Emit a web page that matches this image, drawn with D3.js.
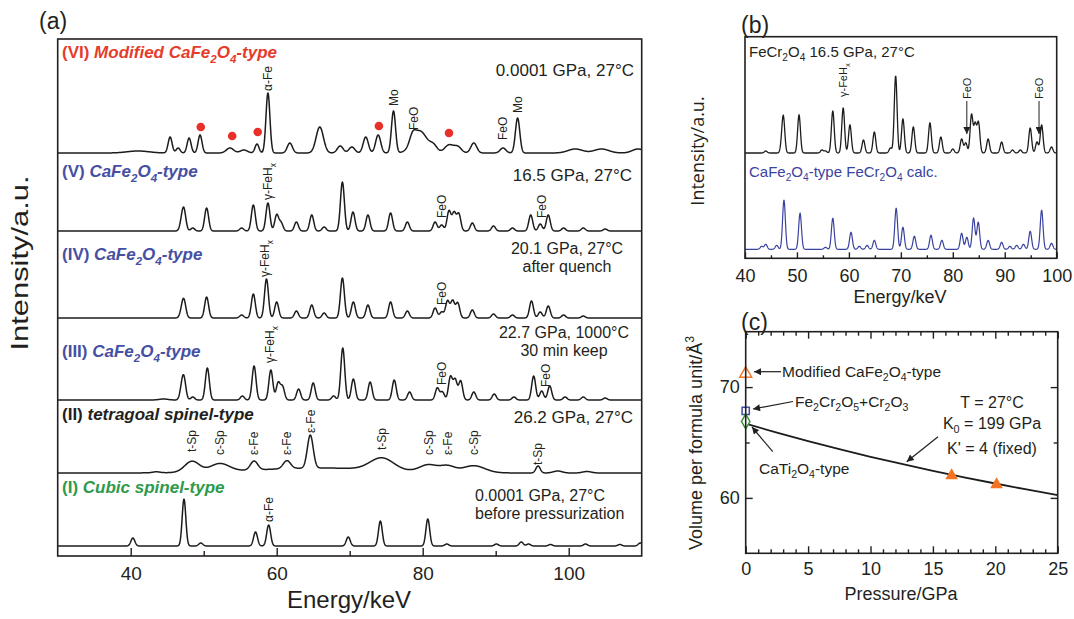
<!DOCTYPE html>
<html>
<head>
<meta charset="utf-8">
<script src="https://cdn.jsdelivr.net/npm/d3@7"></script>
<style>
body { margin: 0; background: #fff; }
text { font-family: "Liberation Sans", Arial, sans-serif; fill: #231f20; }
</style>
</head>
<body>
<svg id="fig" width="1074" height="619"></svg>
<script>
// ---------- panel (a): peak tables  [keV, height, width]
const peaksI = [[40.3,8],[47.3,47,0.25],[49.6,3],[57.1,14],[58.9,21],[69.8,9],[74.2,25,0.26],[80.7,27,0.26],
  [83.3,2],[90.1,2],[93.5,4],[94.5,2],[97.5,1.5],[102.3,2],[107,1.5],[109.8,3]];
const peaksII = [[43.5,1,0.5],[66,5,9],[48.4,11,1.0],[52.2,8,1.3],[56.9,9,0.5],[61.4,8,0.5],[64.6,33,0.4],
  [74.4,12,1.6],[80.8,7,1.2],[83.4,6,1.0],[87.0,7,1.5],[95.8,7,0.3],[98.5,2,0.6],[102.5,1.5,0.6]];
const peaksIII = [[44.5,1,0.6],[47.0,10],[47.3,19],[48.5,3],[50.5,32],[55.3,4],[56.9,34],[59.2,30],[60.2,17],[60.8,13],
  [63.0,11],[65.0,17],[67.8,4],[69.05,52],[70.5,21],[72.8,18],[76.1,20],[78.2,8],[82.0,12],[82.7,8],
  [83.8,23],[84.45,20],[85.2,19],[87.0,8],[89.8,6],[92.5,3],[95.2,24],[96.3,9],[97.4,14],[99.5,3],[102,3],[105,2]];
const peaksIV = [[47.0,6],[47.3,16],[50.4,21],[55.2,3],[56.8,24],[58.6,39],[60.0,16],[62.7,7],[64.8,13],[66.5,5],
  [69.0,40],[70.5,16],[72.5,13],[75.6,16],[77.9,7],[81.7,10],[82.6,6],[83.4,17],[84.1,17],[84.8,15],[86.8,8],
  [89.7,4],[92.3,3],[94.9,17],[96.1,6],[97.2,12],[99.3,3],[102,2]];
const peaksV = [[47.0,8],[47.3,19],[48.5,3],[50.4,23],[55.2,3],[56.8,26],[58.8,28],[60.0,16],[60.6,8],[62.7,9],
  [64.8,16],[66.5,4],[69.0,49],[70.45,19],[72.5,16],[75.6,18],[77.9,9],[81.7,9],[82.6,6],[83.6,20],[84.3,18],
  [84.95,17],[86.8,8],[89.7,5],[92.3,3],[94.8,16],[96.1,7],[97.2,16],[99.3,3],[102,3],[105,2]];
const peaksVI = [[41,2,1.5],[45.4,16],[46.5,5],[48.0,15],[49.5,18],[53.6,5,0.5],[55.5,3,0.5],[57.3,9],[58.8,60],
  [61.8,10,0.35],[65.9,26,0.5],[68.7,7,0.4],[70.3,6,0.4],[72.2,16,0.35],[73.9,18,0.35],[76.0,42,0.28],
  [78.6,8,0.4],[79.6,22,1.0],[81.5,6,0.5],[83.6,8,0.6],[84.8,6,0.5],[87.0,10,0.4],[91.0,5,0.4],[93.0,35,0.3],
  [100.9,4,1],[104.5,4,1],[109.5,4,0.8]];

const traceIds = ["I","II","III","IV","V","VI"];
const tracePeaks = [peaksI, peaksII, peaksIII, peaksIV, peaksV, peaksVI];
const traceNums = ["(I)","(II)","(III)","(IV)","(V)","(VI)"];
const traceNames = ["Cubic spinel-type","tetragoal spinel-type","CaFe_2O_4-type","CaFe_2O_4-type","CaFe_2O_4-type","Modified CaFe_2O_4-type"];
const traceConds = [["0.0001 GPa, 27°C","before pressurization"],["26.2 GPa, 27°C"],["22.7 GPa, 1000°C","30 min keep"],
  ["20.1 GPa, 27°C","after quench"],["16.5 GPa, 27°C"],["0.0001 GPa, 27°C"]];

// phase labels [trace, keV, text, lift above baseline]
const phaseLabels = [
  ["VI",58.8,"α-Fe",62],["VI",76.0,"Mo",47],["VI",78.8,"FeO",23],["VI",91.0,"FeO",13],["VI",93.0,"Mo",40],
  ["V",58.8,"γ-FeH_x",31],["V",82.6,"FeO",13],["V",96.3,"FeO",13],
  ["IV",58.4,"γ-FeH_x",41],["IV",82.6,"FeO",13],
  ["III",59.1,"γ-FeH_x",37],["III",82.6,"FeO",15],["III",96.8,"FeO",13],
  ["II",48.4,"t-Sp",21],["II",52.2,"c-Sp",18],["II",56.9,"ε-Fe",18],["II",61.4,"ε-Fe",18],["II",64.6,"ε-Fe",40],
  ["II",74.4,"t-Sp",23],["II",80.8,"c-Sp",18],["II",83.4,"ε-Fe",18],["II",87.0,"c-Sp",18],["II",95.8,"t-Sp",8],
  ["I",58.9,"α-Fe",24]
];
// red dots on (VI)  [keV, lift]
const dotsVI = [[49.6,26],[53.9,17],[57.4,21],[74.0,27],[83.6,20]];

const ticksA = [40,60,80,100], minorA = [50,70,90];

// ---------- panel (b)
const peaksObs = [[44.0,2],[47.1,8],[47.4,33],[50.4,38],[54.8,3],[55.5,2],[56.9,42],[58.9,45],[60.2,28],[62.8,13],
  [64.9,21],[68.0,5],[69.0,77],[70.4,34],[72.4,26],[75.6,30],[77.7,16],[80.0,4],[81.7,14],[82.5,10],[83.6,38],
  [84.3,28],[84.95,30],[86.8,14],[89.4,11],[91.5,3],[93,3],[94.9,25],[96.2,11],[97.1,28],[99.0,6]];
const peaksCalc = [[43.2,3],[44.0,5],[46.1,4],[47.5,49],[50.6,36],[55.5,2],[56.9,31],[60.4,17],[62.0,3],[63.5,4],
  [64.9,9],[69.1,41],[70.4,22],[72.6,13],[75.8,14],[77.9,9],[81.7,16],[82.7,12],[84.0,31],[84.9,27],[86.8,9],
  [89.4,7],[91.0,3],[92.3,4],[93.6,5],[94.9,18],[97.1,39],[99.0,6]];
const ticksB = [40,50,60,70,80,90,100], minorB = [45,55,65,75,85,95];

// ---------- panel (c)
const eosP = [0,2.5,5,7.5,10,12.5,15,17.5,20,22.5,25];
const eosV = [66.7,65.89,65.12,64.40,63.71,63.07,62.45,61.86,61.30,60.76,60.25];
const ambientPts = [["triangle",71.3,"#f07a2c"],["square",67.85,"#3d4ea3"],["diamond",66.9,"#3f8f3a"]];
const highPP = [16.5,20.1], highPV = [62.1,61.3];

// ---------- helpers
const svg = d3.select("#fig");
svg.append("rect").attr("width",1074).attr("height",619).attr("fill","#fff");

function spectrum(peaks, lo, hi) {
  const pts = [];
  for (let e = lo; e <= hi + 1e-9; e += 0.04) {
    let v = 0;
    peaks.forEach(p => { const s = p[2] || 0.27; v += p[1] * Math.exp(-0.5 * ((e - p[0]) / s) ** 2); });
    pts.push([e, v]);
  }
  return pts;
}

// "_x" / "_{..}" subscript, "^x" superscript
function rich(sel, str, size) {
  const toks = []; let i = 0, buf = "";
  while (i < str.length) {
    const c = str[i];
    if (c === "_" || c === "^") {
      if (buf) { toks.push({t: buf, k: 0}); buf = ""; }
      let s;
      if (str[i+1] === "{") { const j = str.indexOf("}", i); s = str.slice(i+2, j); i = j + 1; }
      else { s = str[i+1]; i += 2; }
      toks.push({t: s, k: c === "_" ? 1 : -1});
    } else { buf += c; i++; }
  }
  if (buf) toks.push({t: buf, k: 0});
  let shift = 0;
  toks.forEach(tk => {
    const target = tk.k === 1 ? size * 0.28 : tk.k === -1 ? -size * 0.42 : 0;
    const ts = sel.append("tspan").text(tk.t);
    if (target - shift) ts.attr("dy", target - shift);
    if (tk.k) ts.style("font-size", (size * 0.68) + "px");
    shift = target;
  });
  return sel;
}

function frame(g, x0, y0, x1, y1) {
  g.append("rect").attr("x", x0).attr("y", y0).attr("width", x1 - x0).attr("height", y1 - y0)
    .attr("fill", "none").attr("stroke", "#231f20").attr("stroke-width", 1.6);
}

function styleAxis(g, size) {
  g.select(".domain").remove();
  g.selectAll("line").attr("stroke", "#231f20").attr("stroke-width", 1.4);
  g.selectAll("text").style("font-size", size + "px").attr("fill", "#231f20")
    .style("font-family", '"Liberation Sans", Arial, sans-serif');
}

const defs = svg.append("defs");
defs.append("marker").attr("id", "ah").attr("viewBox", "0 0 10 10").attr("refX", 10).attr("refY", 5)
  .attr("markerUnits", "userSpaceOnUse").attr("markerWidth", 9).attr("markerHeight", 7).attr("orient", "auto")
  .append("path").attr("d", "M0,0 L10,5 L0,10 z").attr("fill", "#231f20");

// ================= panel (a)
const xA = d3.scaleLinear().domain([30, 110]).range([57.7, 641.7]);
const yA = d3.scaleLinear().domain([0, 517]).range([556, 39]);
const baseA = {I: 10, II: 83, III: 156, IV: 238, V: 325, VI: 403};
const titleY = [493, 420, 357, 260, 177, 58];
const titleCol = ["#2e9a4c", "#231f20", "#4650a2", "#4650a2", "#4650a2", "#e63c2b"];
const condLayout = [
  {anchor: "start", x: 475, y: [501, 519], size: 16},
  {anchor: "end", x: 633, y: [423], size: 17},
  {anchor: "middle", x: 564, y: [338, 356], size: 16},
  {anchor: "middle", x: 567, y: [254, 272], size: 16},
  {anchor: "end", x: 632, y: [181], size: 17},
  {anchor: "end", x: 634, y: [76], size: 17}
];

const gA = svg.append("g");
const line = d3.line().x(d => xA(d[0])).y(d => yA(d[1]));

tracePeaks.forEach((pk, i) => {
  const b = baseA[traceIds[i]];
  const pts = spectrum(pk, 30, 110).map(d => [d[0], d[1] + b]);
  gA.append("path").attr("d", line(pts)).attr("fill", "none")
    .attr("stroke", "#1c1c1c").attr("stroke-width", 1.5).attr("stroke-linejoin", "round");

  const t = gA.append("text").attr("x", 62).attr("y", titleY[i])
    .style("font-size", "17px").style("font-weight", "bold").style("font-style", "italic")
    .attr("fill", titleCol[i]).style("fill", titleCol[i]);
  t.append("tspan").text(traceNums[i] + " ").style("font-style", "normal");
  rich(t, traceNames[i], 17);

  const L = condLayout[i];
  traceConds[i].forEach((s, k) => {
    gA.append("text").attr("x", L.x).attr("y", L.y[k]).attr("text-anchor", L.anchor)
      .style("font-size", L.size + "px").text(s);
  });
});

phaseLabels.forEach(([id, e, s, lift]) => {
  const x = xA(e), y = yA(baseA[id] + lift);
  const t = gA.append("text").attr("x", x).attr("y", y).attr("dy", "0.36em")
    .attr("transform", `rotate(-90,${x},${y})`).style("font-size", "12px");
  rich(t, s, 12);
});

gA.selectAll("circle.dot").data(dotsVI).join("circle").attr("class", "dot")
  .attr("cx", d => xA(d[0])).attr("cy", d => yA(baseA.VI + d[1])).attr("r", 4.3).attr("fill", "#e8302a");

frame(gA, 57.7, 39, 641.7, 556);
const axA = gA.append("g").attr("transform", "translate(0,556)")
  .call(d3.axisBottom(xA).tickValues(ticksA).tickSizeInner(-8).tickSizeOuter(0).tickPadding(11));
styleAxis(axA, 19);
const axAm = gA.append("g").attr("transform", "translate(0,556)")
  .call(d3.axisBottom(xA).tickValues(minorA).tickSizeInner(-5).tickSizeOuter(0).tickFormat(""));
styleAxis(axAm, 19);

gA.append("text").attr("x", 349).attr("y", 608).attr("text-anchor", "middle").style("font-size", "24px").text("Energy/keV");
gA.append("text").attr("transform", "translate(28,263) rotate(-90)").attr("text-anchor", "middle")
  .style("font-size", "24px").attr("textLength", 175).attr("lengthAdjust", "spacingAndGlyphs").text("Intensity/a.u.");
gA.append("text").attr("x", 39).attr("y", 29).style("font-size", "23px").text("(a)");

// ================= panel (b)
const xB = d3.scaleLinear().domain([40, 100]).range([745, 1056.7]);
const yB = d3.scaleLinear().domain([0, 221.6]).range([258.3, 36.7]);
const lineB = d3.line().x(d => xB(d[0])).y(d => yB(d[1]));
const gB = svg.append("g");

gB.append("path").attr("d", lineB(spectrum(peaksObs, 40, 100).map(d => [d[0], d[1] + 105.3])))
  .attr("fill", "none").attr("stroke", "#1c1c1c").attr("stroke-width", 1.3);
gB.append("path").attr("d", lineB(spectrum(peaksCalc, 40, 100).map(d => [d[0], d[1] + 9])))
  .attr("fill", "none").attr("stroke", "#3a42a0").attr("stroke-width", 1.2);

rich(gB.append("text").attr("x", 749).attr("y", 57).style("font-size", "15px"), "FeCr_2O_4 16.5 GPa, 27°C", 15);
rich(gB.append("text").attr("x", 749).attr("y", 177).style("font-size", "15px").style("fill", "#3a42a0"),
  "CaFe_2O_4-type FeCr_2O_4 calc.", 15);

[[58.9, "γ-FeH_x", 97]].forEach(([e, s, y]) => {
  const x = xB(e);
  rich(gB.append("text").attr("x", x).attr("y", y).attr("dy", "0.36em")
    .attr("transform", `rotate(-90,${x},${y})`).style("font-size", "11px"), s, 11);
});
[82.7, 96.6].forEach(e => {
  const x = xB(e);
  gB.append("line").attr("x1", x).attr("x2", x).attr("y1", 101).attr("y2", 134)
    .attr("stroke", "#231f20").attr("stroke-width", 1).attr("marker-end", "url(#ah)");
  gB.append("text").attr("x", x).attr("y", 99).attr("dy", "0.36em")
    .attr("transform", `rotate(-90,${x},99)`).style("font-size", "11px").text("FeO");
});

frame(gB, 745, 36.7, 1056.7, 258.3);
const axB = gB.append("g").attr("transform", "translate(0,258.3)")
  .call(d3.axisBottom(xB).tickValues(ticksB).tickSizeInner(-6).tickSizeOuter(0).tickPadding(11));
styleAxis(axB, 18);
const axBm = gB.append("g").attr("transform", "translate(0,258.3)")
  .call(d3.axisBottom(xB).tickValues(minorB).tickSizeInner(-3).tickSizeOuter(0).tickFormat(""));
styleAxis(axBm, 18);
gB.append("text").attr("x", 900).attr("y", 303).attr("text-anchor", "middle").style("font-size", "18px").text("Energy/keV");
gB.append("text").attr("transform", "translate(704,151) rotate(-90)").attr("text-anchor", "middle")
  .style("font-size", "18px").style("font-family", '"Open Sans", sans-serif').text("Intensity/a.u.");
gB.append("text").attr("x", 741).attr("y", 33).style("font-size", "23px").text("(b)");

// ================= panel (c)
const xC = d3.scaleLinear().domain([0, 25]).range([745.7, 1057.7]);
const yC = d3.scaleLinear().domain([55, 75]).range([553.3, 331.7]);
const gC = svg.append("g");

gC.append("path").attr("d", d3.line().curve(d3.curveMonotoneX).x(d => xC(d[0])).y(d => yC(d[1]))(eosP.map((p, i) => [p, eosV[i]])))
  .attr("fill", "none").attr("stroke", "#1c1c1c").attr("stroke-width", 1.8);

const symType = {triangle: d3.symbolTriangle, square: d3.symbolSquare, diamond: d3.symbolDiamond};
const symSize = {triangle: 62, square: 52, diamond: 62};
ambientPts.forEach(([shape, v, col]) => {
  gC.append("path").attr("d", d3.symbol(symType[shape], symSize[shape])())
    .attr("transform", `translate(${xC(0)},${yC(v) + (shape === "triangle" ? 1 : 0)})`)
    .attr("fill", "#fff").attr("stroke", col).attr("stroke-width", 1.5);
});
highPP.forEach((p, i) => {
  gC.append("path").attr("d", d3.symbol(d3.symbolTriangle, 70)())
    .attr("transform", `translate(${xC(p)},${yC(highPV[i]) + 1})`).attr("fill", "#f47321");
});

const arrowsC = [[781, 371.7, 754, 371.7], [793, 401.5, 753, 409], [772.7, 451.7, 752, 427], [938, 436.7, 906.7, 461.7]];
arrowsC.forEach(a => gC.append("line").attr("x1", a[0]).attr("y1", a[1]).attr("x2", a[2]).attr("y2", a[3])
  .attr("stroke", "#231f20").attr("stroke-width", 1.2).attr("marker-end", "url(#ah)"));

rich(gC.append("text").attr("x", 782).attr("y", 377).style("font-size", "15.5px"), "Modified CaFe_2O_4-type", 15.5);
rich(gC.append("text").attr("x", 795).attr("y", 407).style("font-size", "15.5px"), "Fe_2Cr_2O_5+Cr_2O_3", 15.5);
rich(gC.append("text").attr("x", 759).attr("y", 474).style("font-size", "15.5px"), "CaTi_2O_4-type", 15.5);
gC.append("text").attr("x", 992).attr("y", 408).attr("text-anchor", "middle").style("font-size", "16px").text("T = 27°C");
rich(gC.append("text").attr("x", 992).attr("y", 429).attr("text-anchor", "middle").style("font-size", "16px"), "K_0 = 199 GPa", 16);
gC.append("text").attr("x", 992).attr("y", 454).attr("text-anchor", "middle").style("font-size", "16px").text("K' = 4 (fixed)");

frame(gC, 745.7, 331.7, 1057.7, 553.3);
const cx1 = d3.range(0, 26), cxMaj = [0, 5, 10, 15, 20, 25];
[["bottom", 553.3], ["top", 331.7]].forEach(([side, y]) => {
  const mk = side === "bottom" ? d3.axisBottom : d3.axisTop;
  const g1 = gC.append("g").attr("transform", `translate(0,${y})`)
    .call(mk(xC).tickValues(cx1.filter(v => v % 5)).tickSizeInner(-4).tickSizeOuter(0).tickFormat(""));
  styleAxis(g1, 18);
  const g2 = gC.append("g").attr("transform", `translate(0,${y})`)
    .call(mk(xC).tickValues(cxMaj).tickSizeInner(-7).tickSizeOuter(0).tickPadding(9)
      .tickFormat(side === "bottom" ? d3.format("d") : ""));
  styleAxis(g2, 18);
});
[["left", 745.7], ["right", 1057.7]].forEach(([side, x]) => {
  const mk = side === "left" ? d3.axisLeft : d3.axisRight;
  const g1 = gC.append("g").attr("transform", `translate(${x},0)`)
    .call(mk(yC).tickValues([65]).tickSizeInner(-4).tickSizeOuter(0).tickFormat(""));
  styleAxis(g1, 18);
  const g2 = gC.append("g").attr("transform", `translate(${x},0)`)
    .call(mk(yC).tickValues([60, 70]).tickSizeInner(-7).tickSizeOuter(0).tickPadding(6)
      .tickFormat(side === "left" ? d3.format("d") : ""));
  styleAxis(g2, 18);
});
gC.append("text").attr("x", 901).attr("y", 600).attr("text-anchor", "middle").style("font-size", "18px").text("Pressure/GPa");
rich(gC.append("text").attr("transform", "translate(702,443) rotate(-90)").attr("text-anchor", "middle")
  .style("font-size", "18px"), "Volume per formula unit/Å^3", 18);
gC.append("text").attr("x", 741).attr("y", 330).style("font-size", "23px").text("(c)");
</script>
</body>
</html>
